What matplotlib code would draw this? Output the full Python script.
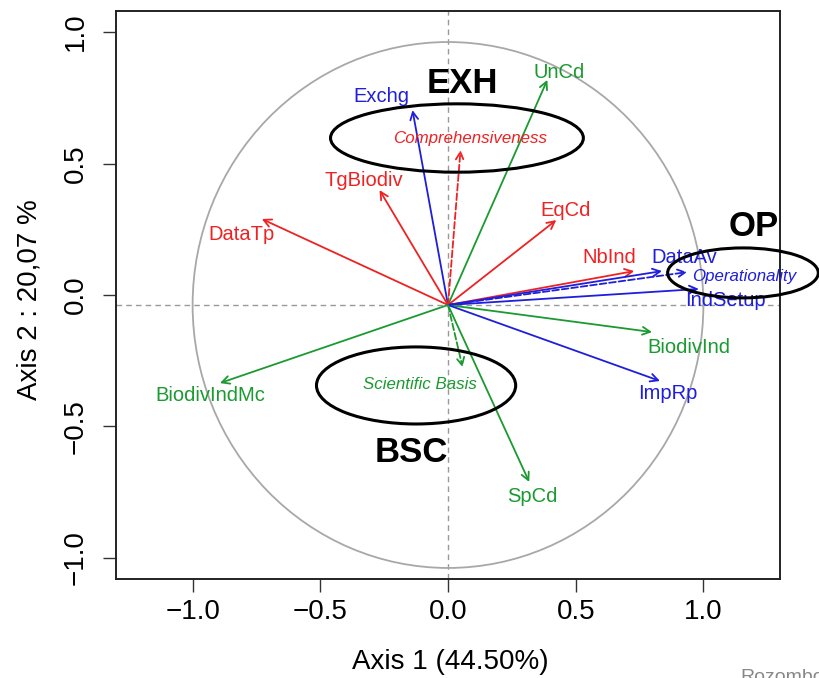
import matplotlib
matplotlib.use("Agg")
import matplotlib.pyplot as plt
from matplotlib.patches import Ellipse, Circle
import numpy as np

# ---- data (correlation loadings) ----
variables = ['Exchg', 'UnCd', 'TgBiodiv', 'EqCd', 'DataTp', 'BiodivIndMc',
             'NbInd', 'DataAv', 'IndSetup', 'BiodivInd', 'ImpRp', 'SpCd']
axis1 = [-0.139, 0.389, -0.268, 0.424, -0.729, -0.893,
         0.729, 0.838, 0.982, 0.799, 0.830, 0.318]
axis2 = [0.741, 0.856, 0.437, 0.323, 0.327, -0.297,
         0.129, 0.129, 0.061, -0.103, -0.289, -0.673]
var_group = ['OP', 'BSC', 'EXH', 'EXH', 'EXH', 'BSC',
             'EXH', 'OP', 'OP', 'BSC', 'OP', 'BSC']

dimensions = ['Comprehensiveness', 'Operationality', 'Scientific Basis']
dim_axis1 = [0.049, 0.936, 0.057]
dim_axis2 = [0.589, 0.125, -0.236]
dim_group = ['EXH', 'OP', 'BSC']

group_names = ['EXH', 'OP', 'BSC']

# ---- layout / style ----
colors = {'EXH': '#EE2222', 'OP': '#1E1EDC', 'BSC': '#1A9A30'}
center = (0.0, -0.038)
var_label_pos = [(-0.26, 0.753), (0.435, 0.848), (-0.33, 0.437), (0.459, 0.323),
                 (-0.807, 0.229), (-0.932, -0.384), (0.631, 0.144), (0.924, 0.141),
                 (1.088, -0.022), (0.943, -0.198), (0.862, -0.376), (0.33, -0.767)]
dim_label_pos = [(0.088, 0.594), (1.158, 0.072), (-0.111, -0.342)]
ellipses = {'EXH': ((0.035, 0.597), 0.99, 0.26),
            'OP': ((1.155, 0.084), 0.59, 0.19),
            'BSC': ((-0.125, -0.344), 0.78, 0.293)}
group_label_pos = {'EXH': (0.055, 0.806), 'OP': (1.197, 0.262), 'BSC': (-0.145, -0.598)}

narrow = ['Liberation Sans Narrow', 'Liberation Sans', 'DejaVu Sans']
sans = ['Liberation Sans', 'DejaVu Sans']

fig = plt.figure(figsize=(8.19, 6.78), dpi=100)
ax = fig.add_axes([116 / 819, 1 - 579 / 678, (780 - 116) / 819, (579 - 11) / 678])
ax.set_xlim(-1.3, 1.3)
ax.set_ylim(-1.08, 1.08)

# reference lines and circle
ax.axhline(center[1], color='#999999', lw=1.0, ls=(0, (4, 3)), zorder=1)
ax.axvline(center[0], color='#999999', lw=1.0, ls=(0, (4, 3)), zorder=1)
ax.add_patch(Circle(center, 1.0, fill=False, ec='#A8A8A8', lw=1.3, zorder=1))

def arrow(x, y, c, ls='-'):
    ax.annotate('', xy=(center[0] + x, center[1] + y), xytext=center,
                arrowprops=dict(arrowstyle='->,head_length=0.55,head_width=0.28',
                                color=c, lw=1.3, ls=ls, shrinkA=0, shrinkB=0),
                zorder=3)

for v, x, y, g, (lx, ly) in zip(variables, axis1, axis2, var_group, var_label_pos):
    arrow(x, y, colors[g])
    ax.text(lx, ly, v, color=colors[g], fontsize=14.5, family=sans,
            ha='center', va='center', zorder=4)

for d, x, y, g, (lx, ly) in zip(dimensions, dim_axis1, dim_axis2, dim_group, dim_label_pos):
    arrow(x, y, colors[g], ls='--')
    ax.text(lx, ly, d, color=colors[g], fontsize=12.2, family=sans, style='italic',
            ha='center', va='center', zorder=4)

for g in group_names:
    (cx, cy), w, h = ellipses[g]
    ax.add_patch(Ellipse((cx, cy), w, h, fill=False, ec='black', lw=2.2,
                         clip_on=False, zorder=5))
    gx, gy = group_label_pos[g]
    ax.text(gx, gy, g, fontsize=25, fontweight='bold', family=narrow,
            ha='center', va='center', zorder=5)

ticks = [-1.0, -0.5, 0.0, 0.5, 1.0]
ax.set_xticks(ticks)
ax.set_yticks(ticks)
ax.set_xticklabels(['\u22121.0', '\u22120.5', '0.0', '0.5', '1.0'],
                   fontsize=20, family=narrow)
ax.set_yticklabels(['\u22121.0', '\u22120.5', '0.0', '0.5', '1.0'],
                   fontsize=20, family=narrow, rotation=90, va='center')
ax.tick_params(axis='both', length=9.5, width=1.0, color='#333333')
ax.tick_params(axis='x', pad=5)
ax.tick_params(axis='y', pad=10)
for s in ax.spines.values():
    s.set_linewidth(1.4)
    s.set_color('#222222')

fig.text(450 / 819, 1 - 662 / 678, 'Axis 1 (44.50%)', fontsize=20, family=narrow,
         ha='center', va='center')
fig.text(30 / 819, 1 - 300 / 678, 'Axis 2 : 20,07 %', fontsize=20, family=narrow,
         ha='center', va='center', rotation=90)
fig.text(740 / 819, 1 - 669 / 678, 'Rozombo', fontsize=14, color='#888888',
         family=sans, ha='left', va='top')

fig.savefig('out.png', dpi=100)
